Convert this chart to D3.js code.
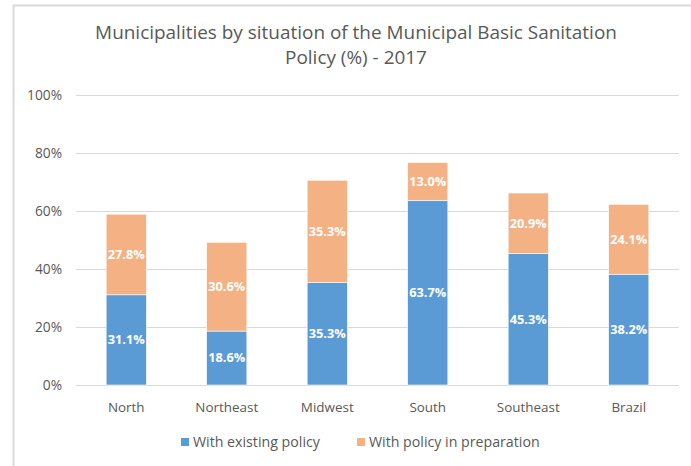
<!DOCTYPE html>
<html><head><meta charset="utf-8">
<script src="https://cdn.jsdelivr.net/npm/d3@7"></script>
<style>body{margin:0;background:#fff}svg{display:block}</style>
</head><body>
<svg id="c" width="691" height="466"></svg>
<script>
const categories = ["North","Northeast","Midwest","South","Southeast","Brazil"];
const existing = [31.1, 18.6, 35.3, 63.7, 45.3, 38.2];
const preparation = [27.8, 30.6, 35.3, 13.0, 20.9, 24.1];
const seriesNames = ["With existing policy","With policy in preparation"];
const yTicks = [0,20,40,60,80,100];
const colors = ["#5B9BD5","#F4B183"];
const titleLines = ["Municipalities by situation of the Municipal Basic Sanitation","Policy (%) - 2017"];

const svg = d3.select("#c");
const font = "'Open Sans', sans-serif";
const textCol = "#595959";

// font size fitted so a sample string has the width seen in the reference
function fit(sample, target, weight){
  const t = svg.append("text").attr("font-family",font).attr("font-size",100)
    .attr("font-weight",weight||"normal").text(sample);
  const w = t.node().getComputedTextLength(); t.remove();
  return 100*target/w;
}
const titleSize = fit(titleLines[0], 522);
const catSize = fit("Northeast", 63);
const ySize = fit("100%", 35);
const legSize = fit(seriesNames[0], 127);
const lblSize = fit("27.8%", 37, "bold");

// frame
svg.append("path").attr("d","M13.5,466 V5.5 H691").attr("fill","none").attr("stroke","#d9d9d9").attr("stroke-width",2);

const x = d3.scaleBand().domain(categories).range([76,679]).paddingInner(0.6).paddingOuter(0.3);
const y = d3.scaleLinear().domain([0,100]).range([385,95]);

// gridlines
svg.append("g").selectAll("line").data(yTicks).join("line")
  .attr("x1",76).attr("x2",679).attr("y1",d=>y(d)+0.5).attr("y2",d=>y(d)+0.5)
  .attr("stroke","#d9d9d9").attr("stroke-width",1.2);

// y axis labels
const yAxis = d3.axisLeft(y).tickValues(yTicks).tickFormat(d=>d+"%").tickSize(0).tickPadding(0);
const gy = svg.append("g").attr("transform","translate(62,0)").call(yAxis);
gy.select(".domain").remove();
gy.selectAll("text").attr("font-family",font).attr("font-size",ySize).attr("fill",textCol);

// x axis labels
const xAxis = d3.axisBottom(x).tickSize(0).tickPadding(0);
const gx = svg.append("g").attr("transform","translate(0,0)").call(xAxis);
gx.select(".domain").remove();
gx.selectAll("text").attr("y",407).attr("dy","0.35em").attr("font-family",font).attr("font-size",catSize).attr("fill",textCol);

// stacked data
const data = categories.map((c,i)=>({cat:c, existing:existing[i], preparation:preparation[i]}));
const stack = d3.stack().keys(["existing","preparation"])(data);

const layers = svg.append("g").selectAll("g").data(stack).join("g").attr("fill",(d,i)=>colors[i]);
layers.selectAll("rect").data(d=>d).join("rect")
  .attr("x",d=>x(d.data.cat)).attr("width",x.bandwidth())
  .attr("y",d=>y(d[1])).attr("height",d=>y(d[0])-y(d[1]))
  .attr("stroke","#fff").attr("stroke-width",0.6);

layers.selectAll("text").data(d=>d).join("text")
  .attr("x",d=>x(d.data.cat)+x.bandwidth()/2)
  .attr("y",d=>(y(d[0])+y(d[1]))/2)
  .attr("dy","0.35em").attr("text-anchor","middle")
  .attr("font-family",font).attr("font-size",lblSize).attr("font-weight","bold").attr("fill","#fff")
  .text(d=>(d[1]-d[0]).toFixed(1)+"%");

// title
svg.append("g").selectAll("text").data(titleLines).join("text")
  .attr("x",356).attr("y",(d,i)=>39+i*24.5).attr("text-anchor","middle")
  .attr("font-family",font).attr("font-size",titleSize).attr("fill",textCol).text(d=>d);

// legend
const legX = [181,357];
const leg = svg.append("g").selectAll("g").data(seriesNames).join("g")
  .attr("transform",(d,i)=>`translate(${legX[i]},442)`);
leg.append("rect").attr("x",0).attr("y",-4).attr("width",8).attr("height",8).attr("fill",(d,i)=>colors[i]);
leg.append("text").attr("x",12).attr("dy","0.35em").attr("font-family",font).attr("font-size",legSize).attr("fill",textCol).text(d=>d);
</script>
</body></html>
